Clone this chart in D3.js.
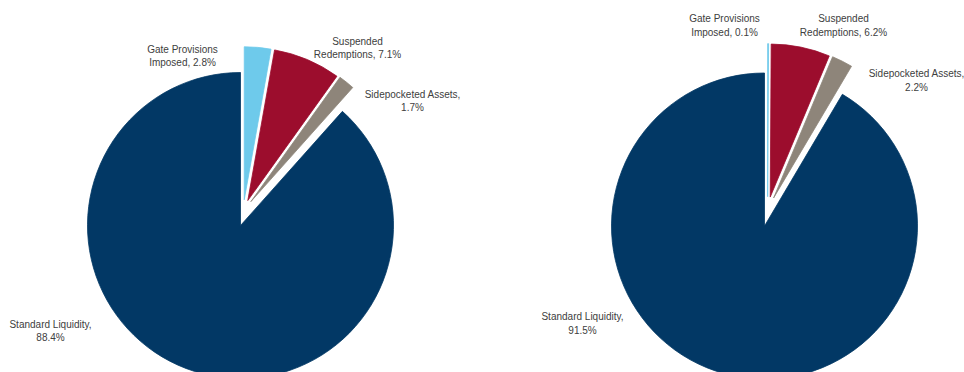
<!DOCTYPE html>
<html><head><meta charset="utf-8">
<script src="https://cdn.jsdelivr.net/npm/d3@7/dist/d3.min.js"></script>
<style>body{margin:0;background:#fff}svg{display:block}</style>
</head><body><svg id="c" width="964" height="372"></svg>
<script>
const categories = ["Gate Provisions Imposed", "Suspended Redemptions", "Sidepocketed Assets", "Standard Liquidity"];
const labelLines1 = ["Gate Provisions", "Suspended", "Sidepocketed Assets,", "Standard Liquidity,"];
const labelLines2 = ["Imposed, ", "Redemptions, ", "", ""];
const valuesLeft = [2.8, 7.1, 1.7, 88.4];
const valuesRight = [0.1, 6.2, 2.2, 91.5];
const colors = ["#6ECAEB", "#9C0D2D", "#8E857A", "#023865"];
const exploded = [true, true, true, false];

const pies = [
  {values: valuesLeft, cx: 240.5, cy: 225.5, explode: 26, labels: [[-58,-177],[117,-185],[172,-132],[-190,98]]},
  {values: valuesRight, cx: 764.5, cy: 226, explode: 29.5, labels: [[-40,-208],[79,-208],[152,-153],[-182,90]]}
];
const R = 153;
const svg = d3.select("#c");
const pie = d3.pie().sort(null).value(d => d);
const arc = d3.arc().innerRadius(0).outerRadius(R);

pies.forEach(p => {
  const g = svg.append("g").attr("transform", `translate(${p.cx},${p.cy})`);
  const arcs = pie(p.values);
  g.selectAll("path").data(arcs).join("path")
    .attr("d", arc)
    .attr("fill", (d,i) => colors[i])
    .attr("stroke", (d,i) => colors[i]).attr("stroke-width", 0.8)
    .attr("transform", (d,i) => {
      if (!exploded[i]) return null;
      const mid = (d.startAngle + d.endAngle) / 2;
      const a = 0.105 + 0.45 * mid;
      return `translate(${p.explode*Math.sin(a)},${-p.explode*Math.cos(a)})`;
    });
  arcs.forEach((d,i) => {
    const [lx, ly] = p.labels[i];
    const t = g.append("text").attr("text-anchor","middle")
      .attr("font-family","Liberation Sans, Arial, sans-serif")
      .attr("font-size", 10).attr("fill", "#404040");
    const pct = d.data.toFixed(1) + "%";
    const l1 = labelLines1[i];
    const l2 = labelLines2[i] ? labelLines2[i] + pct : pct;
    t.append("tspan").attr("x", lx).attr("y", ly + 4).text(l1);
    t.append("tspan").attr("x", lx).attr("y", ly + 4 + 13.5).text(l2);
  });
});
</script></body></html>
